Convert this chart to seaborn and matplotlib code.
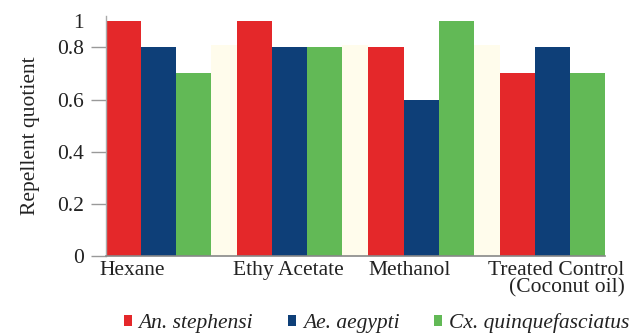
import numpy as np
import pandas as pd
import matplotlib
matplotlib.use("Agg")
import matplotlib.pyplot as plt
from matplotlib.font_manager import FontProperties
import seaborn as sns

categories = ["Hexane", "Ethy Acetate", "Methanol", "Treated Control\n(Coconut oil)"]
species = ["An. stephensi", "Ae. aegypti", "Cx. quinquefasciatus"]
an_stephensi = [1.0, 1.0, 0.8, 0.7]
ae_aegypti = [0.8, 0.8, 0.6, 0.8]
cx_quinque = [0.7, 0.8, 1.0, 0.7]
yticks = [0, 0.2, 0.4, 0.6, 0.8, 1]
ytick_labels = ["0", "0.2", "0.4", "0.6", "0.8", "1"]

rows = []
for s, vals in zip(species, [an_stephensi, ae_aegypti, cx_quinque]):
    for c, v in zip(categories, vals):
        rows.append({"Solvent": c, "Species": s, "RQ": v})
df = pd.DataFrame(rows)

sns.set_theme(style="white")
FAM = ["Liberation Serif", "DejaVu Serif"]
plt.rcParams["font.family"] = FAM
plt.rcParams["font.serif"] = FAM

fs = 15.5
LIB = "/usr/share/fonts/truetype/liberation/"
fp = FontProperties(fname=LIB + "LiberationSerif-Regular.ttf", size=fs)
fpi = FontProperties(fname=LIB + "LiberationSerif-Italic.ttf", size=fs)

palette = {"An. stephensi": "#E4282A", "Ae. aegypti": "#0E3F78", "Cx. quinquefasciatus": "#62B956"}
txt = "#222222"

fig = plt.figure(figsize=(6.38, 3.35), dpi=100)
ax = fig.add_axes([0.166, 0.236, 0.782, 0.716])

# faint cream background in gaps between groups
for i in range(len(categories) - 1):
    ax.axvspan(i + 0.4, i + 0.6, ymin=0, ymax=0.88, color="#FFFCEC", zorder=0, lw=0)

sns.barplot(data=df, x="Solvent", y="RQ", hue="Species", order=categories,
            hue_order=species, palette=palette, width=0.8, saturation=1,
            ax=ax, zorder=2, linewidth=0)

# the original axis compresses the range above 0.8
def fwd(y):
    y = np.asarray(y, dtype=float)
    return np.where(y <= 0.8, y, 0.8 + (y - 0.8) * 0.5)

def inv(z):
    z = np.asarray(z, dtype=float)
    return np.where(z <= 0.8, z, 0.8 + (z - 0.8) * 2.0)

ax.set_yscale("function", functions=(fwd, inv))
ax.set_ylim(0, 1.04)
ax.set_xlim(-0.4, len(categories) - 0.6)

ax.set_yticks(yticks)
ax.set_yticklabels(ytick_labels, color=txt, fontproperties=fp)
ax.yaxis.set_minor_locator(matplotlib.ticker.NullLocator())
ax.tick_params(axis="y", which="major", left=True, length=11, width=1, color="#999999", pad=5)
ax.yaxis.get_major_ticks()[-1].tick1line.set_visible(False)

ax.set_xticks(range(len(categories)))
ax.set_xticklabels([])
ax.tick_params(axis="x", bottom=False)

offsets = [-0.2, -0.01, -0.09]
for i, off in enumerate(offsets):
    ax.text(i + off, -0.02, categories[i], transform=ax.get_xaxis_transform(), ha="center",
            va="top", color=txt, fontproperties=fp)
ax.text(len(categories) - 1 + 0.55, -0.02, categories[-1], transform=ax.get_xaxis_transform(),
        ha="right", va="top", color=txt, multialignment="right", linespacing=0.9,
        fontproperties=fp)

ax.set_xlabel("")
ax.set_ylabel("Repellent quotient", color=txt, labelpad=12, fontproperties=fp)

for side in ["top", "right"]:
    ax.spines[side].set_visible(False)
ax.spines["left"].set_color("#aaaaaa")
ax.spines["bottom"].set_color("#888888")
ax.spines["left"].set_linewidth(1)
ax.spines["bottom"].set_linewidth(1.2)

handles, labels = ax.get_legend_handles_labels()
if ax.legend_:
    ax.legend_.remove()
leg = fig.legend(handles, labels, loc="center", bbox_to_anchor=(0.59, 0.036), ncol=3,
                 frameon=False, handlelength=0.4, handleheight=0.4, handletextpad=0.3,
                 columnspacing=1.6, prop=fpi)
for t in leg.get_texts():
    t.set_color(txt)

fig.savefig("out.png", dpi=100)
